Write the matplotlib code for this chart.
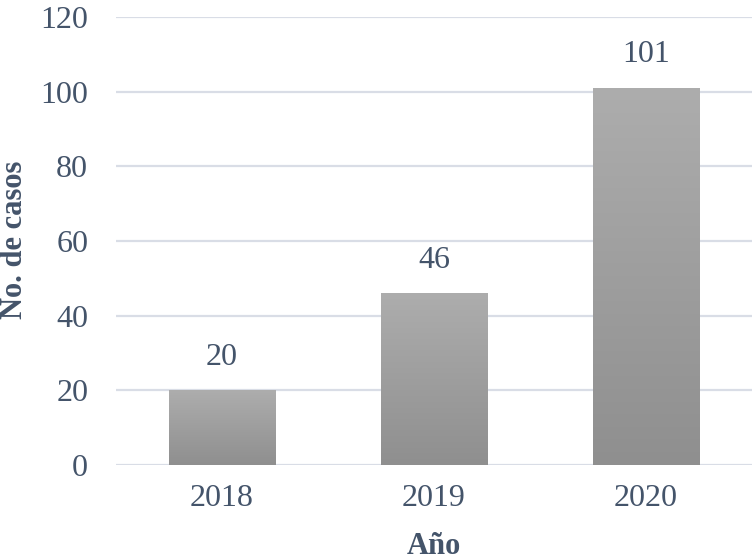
import numpy as np
import matplotlib.pyplot as plt

years = ['2018', '2019', '2020']
casos = [20, 46, 101]
yticks = [0, 20, 40, 60, 80, 100, 120]

txt = '#44546a'
plt.rcParams['font.family'] = ['Liberation Serif', 'DejaVu Serif']

fig = plt.figure(figsize=(7.55, 5.6), dpi=100)
ax = fig.add_axes([0.1536, 0.1696, 0.8424, 0.8])

x = np.arange(len(years))
bars = ax.bar(x, casos, width=0.5, color='none', zorder=3)

# vertical gradient inside each bar, light on top, darker at the bottom
grad = np.linspace(0, 1, 256).reshape(-1, 1)
cmap = plt.matplotlib.colors.LinearSegmentedColormap.from_list('g', ['#8f8f8f', '#adadad'])
for b in bars:
    x0, y0 = b.get_x(), b.get_y()
    w, h = b.get_width(), b.get_height()
    im = ax.imshow(grad, cmap=cmap, aspect='auto', origin='lower',
                   extent=[x0, x0 + w, y0, y0 + h], zorder=3)
    im.set_clip_path(b)

for xi, v in zip(x, casos):
    ax.text(xi, v + 5, str(v), ha='center', va='bottom', fontsize=23, color=txt)

ax.set_xlim(-0.5, 2.5)
ax.set_ylim(0, 120)
ax.set_yticks(yticks)
ax.set_xticks(x)
ax.set_xticklabels(years)
ax.grid(axis='y', color='#d9dde6', linewidth=1.6, zorder=0)
ax.set_axisbelow(True)
for s in ax.spines.values():
    s.set_visible(False)
ax.tick_params(length=0, labelsize=23, labelcolor=txt)
ax.tick_params(axis='y', pad=20)
ax.tick_params(axis='x', pad=14)
ax.set_ylabel('No. de casos', fontsize=22, fontweight='bold', color=txt)
ax.yaxis.set_label_coords(-0.136, 0.502)
ax.set_xlabel('Año', fontsize=22, fontweight='bold', color=txt, labelpad=13)

fig.savefig('out.png', dpi=100)
